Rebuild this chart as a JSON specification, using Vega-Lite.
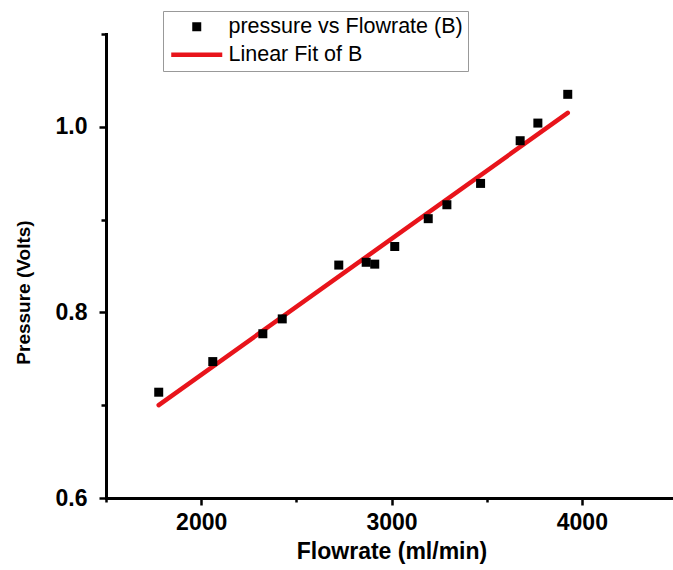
{
  "$schema": "https://vega.github.io/schema/vega-lite/v6.json",
  "width": 571,
  "height": 464,
  "autosize": "none",
  "padding": {"left": 106, "top": 34, "right": 0, "bottom": 72},
  "background": "white",
  "config": {"view": {"stroke": null}, "font": "Liberation Sans"},
  "datasets": {
    "points": [
      {"flowrate": 1777, "pressure": 0.714, "series": "pressure vs Flowrate (B)"},
      {"flowrate": 2061, "pressure": 0.747, "series": "pressure vs Flowrate (B)"},
      {"flowrate": 2324, "pressure": 0.777, "series": "pressure vs Flowrate (B)"},
      {"flowrate": 2426, "pressure": 0.793, "series": "pressure vs Flowrate (B)"},
      {"flowrate": 2723, "pressure": 0.851, "series": "pressure vs Flowrate (B)"},
      {"flowrate": 2867, "pressure": 0.854, "series": "pressure vs Flowrate (B)"},
      {"flowrate": 2912, "pressure": 0.852, "series": "pressure vs Flowrate (B)"},
      {"flowrate": 3017, "pressure": 0.871, "series": "pressure vs Flowrate (B)"},
      {"flowrate": 3193, "pressure": 0.901, "series": "pressure vs Flowrate (B)"},
      {"flowrate": 3291, "pressure": 0.916, "series": "pressure vs Flowrate (B)"},
      {"flowrate": 3468, "pressure": 0.939, "series": "pressure vs Flowrate (B)"},
      {"flowrate": 3676, "pressure": 0.985, "series": "pressure vs Flowrate (B)"},
      {"flowrate": 3769, "pressure": 1.004, "series": "pressure vs Flowrate (B)"},
      {"flowrate": 3926, "pressure": 1.035, "series": "pressure vs Flowrate (B)"}
    ],
    "fit": [
      {"flowrate": 1777, "pressure": 0.700},
      {"flowrate": 3926, "pressure": 1.015}
    ]
  },
  "layer": [
    {
      "data": {"name": "fit"},
      "mark": {"type": "line", "color": "#e8141b", "strokeWidth": 4.5, "strokeCap": "round"},
      "encoding": {
        "x": {
          "field": "flowrate", "type": "quantitative",
          "scale": {"domain": [1500, 4500], "nice": false, "zero": false},
          "axis": {
            "title": "Flowrate (ml/min)",
            "values": [1500, 2000, 2500, 3000, 3500, 4000, 4500],
            "labelExpr": "datum.value % 1000 === 0 ? format(datum.value, 'd') : ''",
            "tickSize": {"condition": {"test": "datum.value % 1000 === 0", "value": 7}, "value": 4},
            "tickWidth": 2.5, "tickColor": "black",
            "domainColor": "black", "domainWidth": 3, "domainCap": "square",
            "grid": false,
            "labelFont": "Liberation Sans", "labelFontWeight": "bold", "labelFontSize": 23, "labelColor": "black",
            "labelPadding": 6, "labelFlush": false,
            "titleFont": "Liberation Sans", "titleFontWeight": "bold", "titleFontSize": 23, "titleColor": "black",
            "titlePadding": 6
          }
        },
        "y": {
          "field": "pressure", "type": "quantitative",
          "scale": {"domain": [0.6, 1.1], "nice": false, "zero": false},
          "axis": {
            "title": "Pressure (Volts)",
            "values": [0.6, 0.7, 0.8, 0.9, 1.0, 1.1],
            "labelExpr": "round(datum.value * 10) % 2 === 0 ? format(datum.value, '.1f') : ''",
            "tickSize": {"condition": {"test": "round(datum.value * 10) % 2 === 0", "value": 7}, "value": 5},
            "tickWidth": 2.5, "tickColor": "black",
            "domainColor": "black", "domainWidth": 3, "domainCap": "square",
            "grid": false,
            "labelFont": "Liberation Sans", "labelFontWeight": "bold", "labelFontSize": 23, "labelColor": "black",
            "labelPadding": 12, "labelFlush": false,
            "titleFont": "Liberation Sans", "titleFontWeight": "bold", "titleFontSize": 19, "titleColor": "black",
            "titleX": -83, "titleY": 258, "titleBaseline": "middle", "titleAlign": "center"
          }
        }
      }
    },
    {
      "data": {"name": "points"},
      "mark": {"type": "point", "filled": true, "opacity": 1, "size": 81, "strokeWidth": 0},
      "encoding": {
        "x": {"field": "flowrate", "type": "quantitative"},
        "y": {"field": "pressure", "type": "quantitative"},
        "color": {
          "field": "series", "type": "nominal",
          "scale": {"domain": ["pressure vs Flowrate (B)", "Linear Fit of B"], "range": ["black", "#e8141b"]},
          "legend": {
            "title": null, "orient": "none", "legendX": 57, "legendY": -23,
            "strokeColor": "#999", "padding": 5, "rowPadding": 5, "symbolOffset": 18,
            "labelFont": "Liberation Sans", "labelFontSize": 21.5, "labelColor": "black", "labelLimit": 0,
            "labelOffset": 21, "symbolSize": 81, "symbolOpacity": 1, "symbolStrokeWidth": 0
          }
        },
        "shape": {
          "field": "series", "type": "nominal",
          "scale": {"domain": ["pressure vs Flowrate (B)", "Linear Fit of B"], "range": ["M-1,-1H1V1H-1Z", "M-5.67,-0.5H5.67V0.5H-5.67Z"]},
          "legend": {
            "title": null, "orient": "none", "legendX": 57, "legendY": -23,
            "strokeColor": "#999", "padding": 5, "rowPadding": 5, "symbolOffset": 18,
            "labelFont": "Liberation Sans", "labelFontSize": 21.5, "labelColor": "black", "labelLimit": 0,
            "labelOffset": 21, "symbolSize": 81, "symbolOpacity": 1, "symbolStrokeWidth": 0
          }
        }
      }
    }
  ]
}
